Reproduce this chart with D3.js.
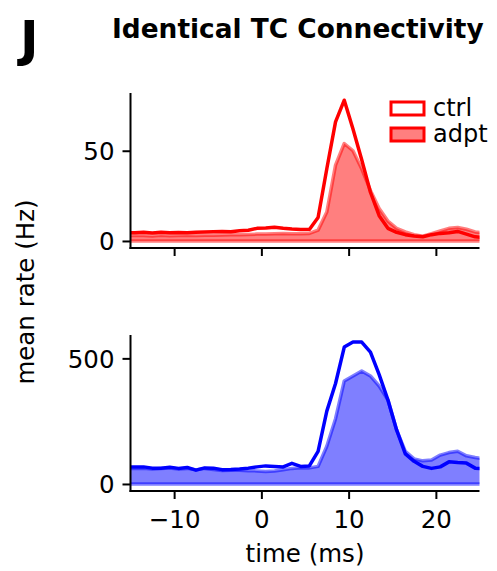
<!DOCTYPE html>
<html>
<head>
<meta charset="utf-8">
<script src="https://cdn.jsdelivr.net/npm/d3@7"></script>
<style>
  body { margin: 0; background: #fff; }
  svg { display: block; font-family: "DejaVu Sans", sans-serif; }
</style>
</head>
<body>
<div id="chart"></div>
<script>
// bin centres (ms)
var times = [-15.5, -14.5, -13.5, -12.5, -11.5, -10.5, -9.5, -8.5, -7.5, -6.5, -5.5,
    -4.5, -3.5, -2.5, -1.5, -0.5, 0.5, 1.5, 2.5, 3.5, 4.5, 5.5, 6.5, 7.5, 8.5, 9.5,
    10.5, 11.5, 12.5, 13.5, 14.5, 15.5, 16.5, 17.5, 18.5, 19.5, 20.5, 21.5, 22.5, 23.5, 24.5, 25.5];

// top panel (red population)
var redCtrl = [4.6, 4.6, 4.8, 4.4, 4.8, 4.5, 4.7, 4.6, 4.8, 4.9, 5.1,
    5.3, 5.1, 5.6, 5.9, 7.0, 7.2, 7.6, 7.0, 6.6, 6.4, 6.3, 13, 40, 66, 78,
    62, 45, 27, 14, 7, 4.8, 3.5, 2.8, 2.3, 3.5, 4.2, 4.5, 5.3, 3.8, 2.3, 1.8];
var redAdpt = [3.0, 3.0, 3.0, 2.8, 3.1, 2.9, 3.0, 3.1, 3.0, 3.2, 3.1,
    3.3, 3.4, 3.5, 3.6, 3.8, 3.9, 4.0, 4.1, 4.0, 4.0, 4.2, 6, 16, 42, 54,
    50, 40, 28, 18, 11, 7, 5, 3.5, 2.6, 4.0, 5.5, 7.0, 7.5, 6.5, 5.0, 4.5];

// bottom panel (blue population)
var blueCtrl = [68, 68, 68, 63, 63, 67, 62, 66, 55, 64, 63,
    57, 58, 60, 63, 68, 72, 70, 68, 82, 70, 72, 130, 290, 400, 545,
    565, 565, 525, 435, 335, 215, 120, 90, 70, 62, 68, 88, 85, 83, 63, 60];
var blueAdpt = [62, 62, 63, 60, 62, 64, 60, 62, 56, 62, 58,
    54, 55, 55, 53, 52, 50, 52, 57, 62, 65, 64, 70, 150, 260, 410,
    430, 450, 430, 390, 335, 215, 130, 100, 92, 95, 115, 125, 130, 112, 105, 100];

var xTicks = [-10, 0, 10, 20];
var topTicks = [0, 50];
var bottomTicks = [0, 500];
var legendLabels = ["ctrl", "adpt"];

var W = 497, H = 571;
var svg = d3.select("#chart").append("svg")
    .attr("width", W)
    .attr("height", H);

var x = d3.scaleLinear().domain([-15, 25]).range([130.5, 479.5]);

var panels = [
    { ctrl: redCtrl, adpt: redAdpt, color: "#ff0000", fill: "rgba(255,0,0,0.5)",
      stroke: "rgba(255,0,0,0.5)", dom: [-3.9, 82], top: 93, bottom: 248, ticks: topTicks, labels: false },
    { ctrl: blueCtrl, adpt: blueAdpt, color: "#0000ff", fill: "rgba(0,0,255,0.5)",
      stroke: "rgba(0,0,255,0.5)", dom: [-28, 593], top: 335, bottom: 491, ticks: bottomTicks, labels: true }
];

panels.forEach(function (p, pi) {
    var y = d3.scaleLinear().domain(p.dom).range([p.bottom, p.top]);
    var g = svg.append("g");

    var clipId = "clip" + pi;
    svg.append("clipPath").attr("id", clipId)
        .append("rect")
        .attr("x", x.range()[0]).attr("y", p.top)
        .attr("width", x.range()[1] - x.range()[0])
        .attr("height", p.bottom - p.top);

    var plot = g.append("g").attr("clip-path", "url(#" + clipId + ")");

    var area = d3.area()
        .x(function (d, i) { return x(times[i]); })
        .y0(y(0))
        .y1(function (d) { return y(d); });

    plot.append("path")
        .datum(p.adpt)
        .attr("d", area)
        .attr("fill", p.fill)
        .attr("stroke", p.stroke)
        .attr("stroke-width", 3.5)
        .attr("stroke-linejoin", "round");

    var line = d3.line()
        .x(function (d, i) { return x(times[i]); })
        .y(function (d) { return y(d); });

    plot.append("path")
        .datum(p.ctrl)
        .attr("d", line)
        .attr("fill", "none")
        .attr("stroke", p.color)
        .attr("stroke-width", 3.5)
        .attr("stroke-linejoin", "round");

    // axes
    var xa = g.append("g")
        .attr("transform", "translate(0," + p.bottom + ")")
        .call(d3.axisBottom(x).tickValues(xTicks).tickSize(8).tickPadding(12)
            .tickFormat(p.labels ? function (d) { return d < 0 ? "\u2212" + Math.abs(d) : d; } : ""));
    var ya = g.append("g")
        .attr("transform", "translate(" + x.range()[0] + ",0)")
        .call(d3.axisLeft(y).tickValues(p.ticks).tickSize(8).tickPadding(8));

    [xa, ya].forEach(function (a) {
        a.select(".domain").remove();
        a.selectAll(".tick line").attr("stroke", "#000").attr("stroke-width", 2);
        a.selectAll(".tick text").attr("fill", "#000").style("font-size", "24.5px")
            .style("font-family", "DejaVu Sans");
    });
    ya.selectAll(".tick text").attr("dy", "0.36em");

    // left and bottom spines only
    g.append("line")
        .attr("x1", x.range()[0]).attr("x2", x.range()[0])
        .attr("y1", p.top).attr("y2", p.bottom + 1)
        .attr("stroke", "#000").attr("stroke-width", 2);
    g.append("line")
        .attr("x1", x.range()[0] - 1).attr("x2", x.range()[1])
        .attr("y1", p.bottom).attr("y2", p.bottom)
        .attr("stroke", "#000").attr("stroke-width", 2);
});

// legend (top panel)
var legend = svg.append("g")
    .selectAll("g")
    .data(legendLabels)
    .enter().append("g")
    .attr("transform", function (d, i) { return "translate(391," + (102 + i * 26) + ")"; });

legend.append("rect")
    .attr("width", 33)
    .attr("height", 13)
    .attr("fill", function (d, i) { return i === 0 ? "#fff" : "rgba(255,0,0,0.5)"; })
    .attr("stroke", "#ff0000")
    .attr("stroke-width", 3);

legend.append("text")
    .attr("x", 42)
    .attr("y", 14)
    .style("font-size", "24px")
    .text(function (d) { return d; });

// titles and labels
svg.append("text")
    .attr("x", 20).attr("y", 56)
    .style("font-size", "50px").style("font-weight", "bold")
    .text("J");

svg.append("text")
    .attr("x", 112).attr("y", 38)
    .style("font-size", "26.4px").style("font-weight", "bold")
    .text("Identical TC Connectivity");

svg.append("text")
    .attr("transform", "translate(34,292) rotate(-90)")
    .attr("text-anchor", "middle")
    .style("font-size", "24.5px")
    .text("mean rate (Hz)");

svg.append("text")
    .attr("x", 305).attr("y", 562)
    .attr("text-anchor", "middle")
    .style("font-size", "24.5px")
    .text("time (ms)");
</script>
</body>
</html>
